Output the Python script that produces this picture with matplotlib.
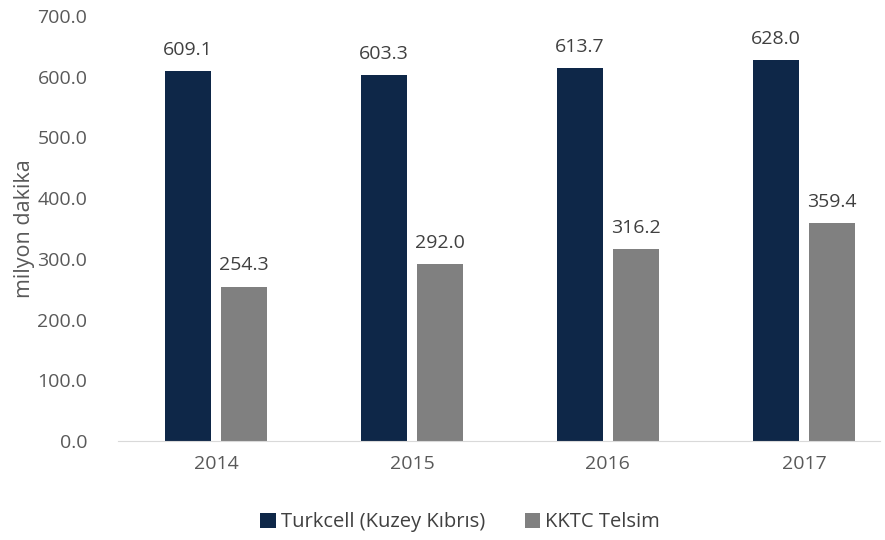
import numpy as np
import matplotlib.pyplot as plt

years = ['2014', '2015', '2016', '2017']
turkcell = [609.1, 603.3, 613.7, 628.0]
telsim = [254.3, 292.0, 316.2, 359.4]
series_names = ['Turkcell (Kuzey Kıbrıs)', 'KKTC Telsim']

plt.rcParams['font.family'] = ['Open Sans', 'DejaVu Sans']

fig = plt.figure(figsize=(8.85, 5.4), dpi=100)
ax = fig.add_axes([0.1333, 0.1833, 0.861, 0.7871])

x = np.arange(len(years))
w = 0.235
off = 0.143
b1 = ax.bar(x - off, turkcell, w, color='#0e2748', label=series_names[0])
b2 = ax.bar(x + off, telsim, w, color='#808080', label=series_names[1])

for bars, vals in [(b1, turkcell), (b2, telsim)]:
    for r, v in zip(bars, vals):
        ax.text(r.get_x() + r.get_width() / 2, v + 20, f'{v:.1f}',
                ha='center', va='bottom', fontsize=14, color='#404040')

ax.set_xlim(-0.5, 3.388)
ax.set_ylim(0, 700)
ax.set_yticks(np.arange(0, 701, 100))
ax.set_yticklabels([f'{t:.1f}' for t in np.arange(0, 701, 100)])
ax.set_xticks(x)
ax.set_xticklabels(years)
ax.tick_params(length=0, labelsize=14, colors='#595959')
ax.tick_params(axis='x', pad=10)
ax.tick_params(axis='y', pad=22)
for s in ['top', 'right', 'left']:
    ax.spines[s].set_visible(False)
ax.spines['bottom'].set_color('#d9d9d9')
ax.set_ylabel('milyon dakika', fontsize=15.5, color='#595959', labelpad=2)

fig.legend(loc='center', bbox_to_anchor=(0.52, 0.033), ncol=2, frameon=False,
           fontsize=14.5, handlelength=0.75, handleheight=0.75, handletextpad=0.25,
           columnspacing=2.0, labelcolor='#404040')

fig.savefig('out.png', dpi=100)
